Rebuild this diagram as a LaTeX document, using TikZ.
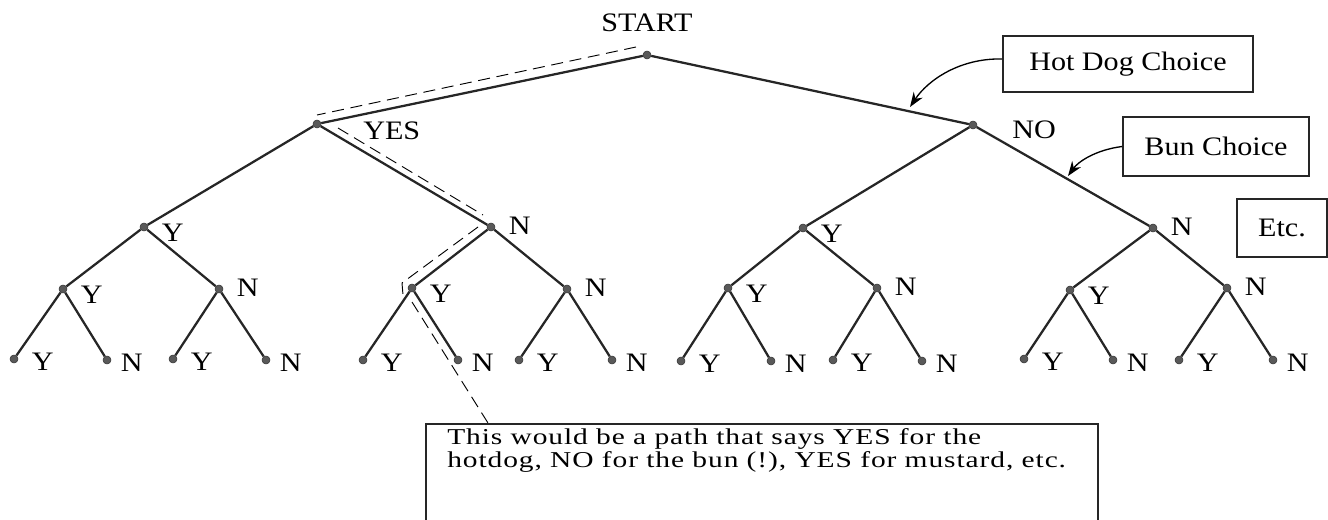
\documentclass[tikz,border=0pt]{standalone}
\usepackage{fontspec}
\setmainfont[FakeStretch=1.13]{Liberation Serif}
\newfontfamily\notefont[FakeStretch=1.3,LetterSpace=4]{Liberation Serif}
\usetikzlibrary{calc,arrows.meta}

\tikzset{
  dot/.style={circle,fill=black!65,draw=black!80,line width=0.4pt,inner sep=0pt,minimum size=6pt},
  edge/.style={line width=1.7pt,color=black!85},
  lab/.style={font=\fontsize{20}{22}\selectfont,inner sep=0pt},
  ylab/.style={label={[lab,label distance=10pt,yshift=-4pt]east:Y}},
  nlab/.style={label={[lab,label distance=10pt,yshift=1pt]east:N}},
  yleaf/.style={label={[lab,label distance=10pt,yshift=-2pt]east:Y}},
  nleaf/.style={label={[lab,label distance=7pt,yshift=-2pt]east:N}},
  tagbox/.style={draw=black!85,line width=1.4pt,font=\fontsize{20}{22}\selectfont},
  dashpath/.style={dashed,dash pattern=on 9pt off 5pt,line width=0.7pt},
  callout/.style={-{Stealth[length=11pt,width=8pt]},line width=1pt}
}

\begin{document}
\begin{tikzpicture}[x=0.75pt,y=0.75pt,yscale=-1,xscale=1]
\useasboundingbox (0,0) rectangle (1328,520);
\clip (0,0) rectangle (1328,520);

%Shape: Circle
\node[dot] (s) at (647,55) {};
\node[dot] (y) at (317,124) {};
\node[dot] (n) at (973,125) {};
\node[dot,ylab] (yy) at (144,227) {};
\node[dot,nlab] (yn) at (491,227) {};
\node[dot,ylab] (ny) at (803,228) {};
\node[dot,nlab] (nn) at (1153,228) {};
\node[dot,ylab] (yyy) at (63,289) {};
\node[dot,nlab] (yyn) at (219,289) {};
\node[dot,ylab] (yny) at (412,288) {};
\node[dot,nlab] (ynn) at (567,289) {};
\node[dot,ylab] (nyy) at (728,288) {};
\node[dot,nlab] (nyn) at (877,288) {};
\node[dot,ylab] (nny) at (1070,290) {};
\node[dot,nlab] (nnn) at (1227,288) {};
\node[dot,yleaf] (yyyy) at (14,359) {};
\node[dot,nleaf] (yyyn) at (107,360) {};
\node[dot,yleaf] (yyny) at (173,359) {};
\node[dot,nleaf] (yynn) at (266,360) {};
\node[dot,yleaf] (ynyy) at (363,360) {};
\node[dot,nleaf] (ynyn) at (458,360) {};
\node[dot,yleaf] (ynny) at (519,360) {};
\node[dot,nleaf] (ynnn) at (612,360) {};
\node[dot,yleaf] (nyyy) at (681,361) {};
\node[dot,nleaf] (nyyn) at (771,361) {};
\node[dot,yleaf] (nyny) at (833,360) {};
\node[dot,nleaf] (nynn) at (922,361) {};
\node[dot,yleaf] (nnyy) at (1024,359) {};
\node[dot,nleaf] (nnyn) at (1113,360) {};
\node[dot,yleaf] (nnny) at (1179,360) {};
\node[dot,nleaf] (nnnn) at (1273,360) {};

%Straight Lines
\draw[edge] (y) -- (s) -- (n);
\draw[edge] (yy) -- (y) -- (yn);
\draw[edge] (ny) -- (n) -- (nn);
\draw[edge] (yyy) -- (yy) -- (yyn);
\draw[edge] (yny) -- (yn) -- (ynn);
\draw[edge] (nyy) -- (ny) -- (nyn);
\draw[edge] (nny) -- (nn) -- (nnn);
\draw[edge] (yyyy) -- (yyy) -- (yyyn);
\draw[edge] (yyny) -- (yyn) -- (yynn);
\draw[edge] (ynyy) -- (yny) -- (ynyn);
\draw[edge] (ynny) -- (ynn) -- (ynnn);
\draw[edge] (nyyy) -- (nyy) -- (nyyn);
\draw[edge] (nyny) -- (nyn) -- (nynn);
\draw[edge] (nnyy) -- (nny) -- (nnyn);
\draw[edge] (nnny) -- (nnn) -- (nnnn);

% Text Node
\node[lab] (start) at (647,23) {START};
\node[lab,anchor=west] (yes) at ($(y)+(46,7)$) {YES};
\node[lab,anchor=west] (no) at ($(n)+(39,5)$) {NO};

%Shape: Rectangle
\node[tagbox,minimum width=187.5pt,minimum height=42pt] (hotdog) at (1128,64) {Hot Dog Choice};
\node[tagbox,minimum width=139.5pt,minimum height=44pt] (bun) at (1216,146.5) {Bun Choice};
\node[tagbox,minimum width=67.5pt,minimum height=43.5pt] (etc) at (1282,228) {Etc.};
\node[draw=black!85,line width=1.4pt,anchor=north west,minimum width=504pt,minimum height=90pt] (note) at (425,423) {};
\node[anchor=north west,align=left,inner sep=0pt,font=\notefont\fontsize{17}{17.3}\selectfont] (notetxt) at ($(note.north west)+(22,5)$)
  {This would be a path that says YES for the\\hotdog, NO for the bun (!), YES for mustard, etc.};

%Curve Lines
\coordinate (hdtip) at (910,107);
\coordinate (buntip) at (1068,176);
\draw[callout] ($(hotdog.west)+(0,-5)$) .. controls (960,58) and (928,80) .. (hdtip);
\draw[callout] (bun.west) .. controls (1095,150) and (1078,162) .. (buntip);

%Dashed path
\draw[dashpath] ($(s)+(-11,-8)$) -- ($(y)+(0,-9)$);
\draw[dashpath] ($(y)+(21,4)$) -- ($(yn)+(-8,-12)$);
\draw[dashpath] ($(yn)+(-13,0)$) -- ($(yny)+(-10,-5)$) -- ($(yny)+(-9,7)$);
\draw[dashpath] ($(yny)+(0,14)$) -- ($(note.north west)+(63,0)$);

\end{tikzpicture}
\end{document}
